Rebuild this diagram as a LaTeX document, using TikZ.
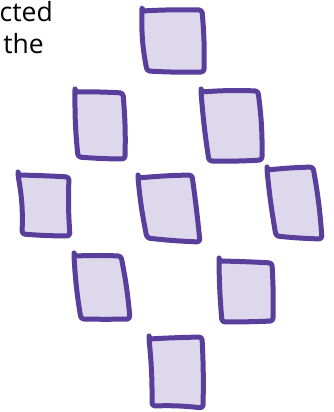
\documentclass[tikz,border=0pt]{standalone}
\usepackage{fontspec}
\setmainfont{Open Sans}
\definecolor{boxline}{RGB}{90,62,156}
\definecolor{boxfill}{RGB}{221,216,235}
\tikzset{
  sketchbox/.style={draw=boxline, fill=boxfill, line width=5pt, line join=round, rounded corners=3pt},
  cuttext/.style={inner sep=0pt, anchor=base east, font=\fontsize{26.5}{32}\selectfont, text=black}
}
\begin{document}
\begin{tikzpicture}[x=1pt,y=-1pt]
\useasboundingbox (0,0) rectangle (333,412);
\node[cuttext] (t1) at (53,22) {cted};
\node[cuttext] (t2) at (44,54) {the};
% row 1
\draw[sketchbox] (142,11) to[bend left=2] (202,10) to[bend left=3] (204,72) to[bend left=2] (147,71) to[bend left=6] (142,11) -- cycle;
% row 2
\draw[sketchbox] (75,92) to[bend left=2] (123,93) to[bend left=3] (125,159) to[bend left=2] (78,157) to[bend left=3] (75,92) -- cycle;
\draw[sketchbox] (201,92) to[bend left=3] (258,91) to[bend left=4] (262,160) to[bend left=2] (209,161) to[bend left=2] (201,92) -- cycle;
% row 3
\draw[sketchbox] (18,175) to[bend left=1] (69,177) to[bend right=3] (70,236) to[bend left=2] (22,234) to[bend right=6] (18,175) -- cycle;
\draw[sketchbox] (138,178) to[bend left=2] (192,175) to[bend left=1] (200,242) to[bend left=2] (147,238) to[bend left=3] (138,178) -- cycle;
\draw[sketchbox] (267,170) to[bend left=2] (313,167) to[bend left=3] (322,239) to[bend left=2] (276,236) to[bend left=2] (267,170) -- cycle;
% row 4
\draw[sketchbox] (74,256) to[bend left=2] (121,256) to[bend left=3] (130,319) to[bend left=1] (81,319) to[bend left=3] (74,256) -- cycle;
\draw[sketchbox] (219,261) to[bend left=1] (272,263) to[bend left=2] (273,321) to[bend left=1] (222,322) to[bend left=2] (219,261) -- cycle;
% row 5
\draw[sketchbox] (149,339) to[bend left=1] (202,337) to[bend left=2] (203,408) to[bend right=4] (152,406) to[bend right=3] (149,339) -- cycle;
\end{tikzpicture}
\end{document}
